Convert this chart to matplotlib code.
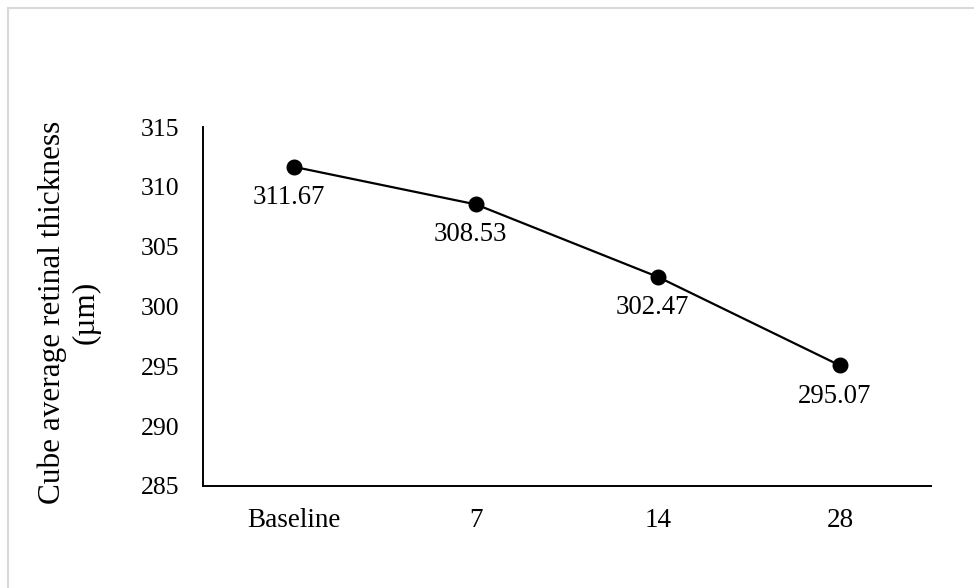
import matplotlib
matplotlib.use("Agg")
from matplotlib import pyplot as plt
from matplotlib.patches import Rectangle

# 数据
categories = ["Baseline", "7", "14", "28"]
thickness = [311.67, 308.53, 302.47, 295.07]
y_ticks = [285, 290, 295, 300, 305, 310, 315]

plt.rcParams["font.family"] = ["Liberation Serif", "DejaVu Serif"]

fig = plt.figure(figsize=(9.74, 5.88), dpi=100)

# 外框 (只露出上边和左边)
fig.patches.append(Rectangle((8 / 974, -0.05), 1.2, 1 - 8 / 588 + 0.05,
                             transform=fig.transFigure, fill=False,
                             edgecolor="#d9d9d9", linewidth=1.5))

ax = fig.add_axes([203 / 974, 1 - 486 / 588, 728 / 974, 359 / 588])
x = list(range(len(categories)))
ax.plot(x, thickness, color="black", linewidth=1.6, marker="o", markersize=10.5)

for xi, v in zip(x, thickness):
    ax.annotate(f"{v:.2f}", (xi, v), xytext=(-4, -22), textcoords="offset points",
                ha="center", va="center", fontsize=19.3)

ax.set_xlim(-0.5, 3.5)
ax.set_ylim(285, 315)
ax.set_yticks(y_ticks)
ax.set_xticks(x)
ax.set_xticklabels(categories)
ax.tick_params(axis="both", length=0)
ax.tick_params(axis="y", pad=17, labelsize=18.5)
ax.tick_params(axis="x", pad=16, labelsize=19.5)

ax.spines["right"].set_color("none")
ax.spines["top"].set_color("none")
for s in ("left", "bottom"):
    ax.spines[s].set_linewidth(1.4)

fig.text(69 / 974, 1 - 312 / 588, "Cube average retinal thickness\n(µm)",
         rotation=90, ha="center", va="center", fontsize=22.5, multialignment="center")

fig.savefig("out.png", dpi=100)
